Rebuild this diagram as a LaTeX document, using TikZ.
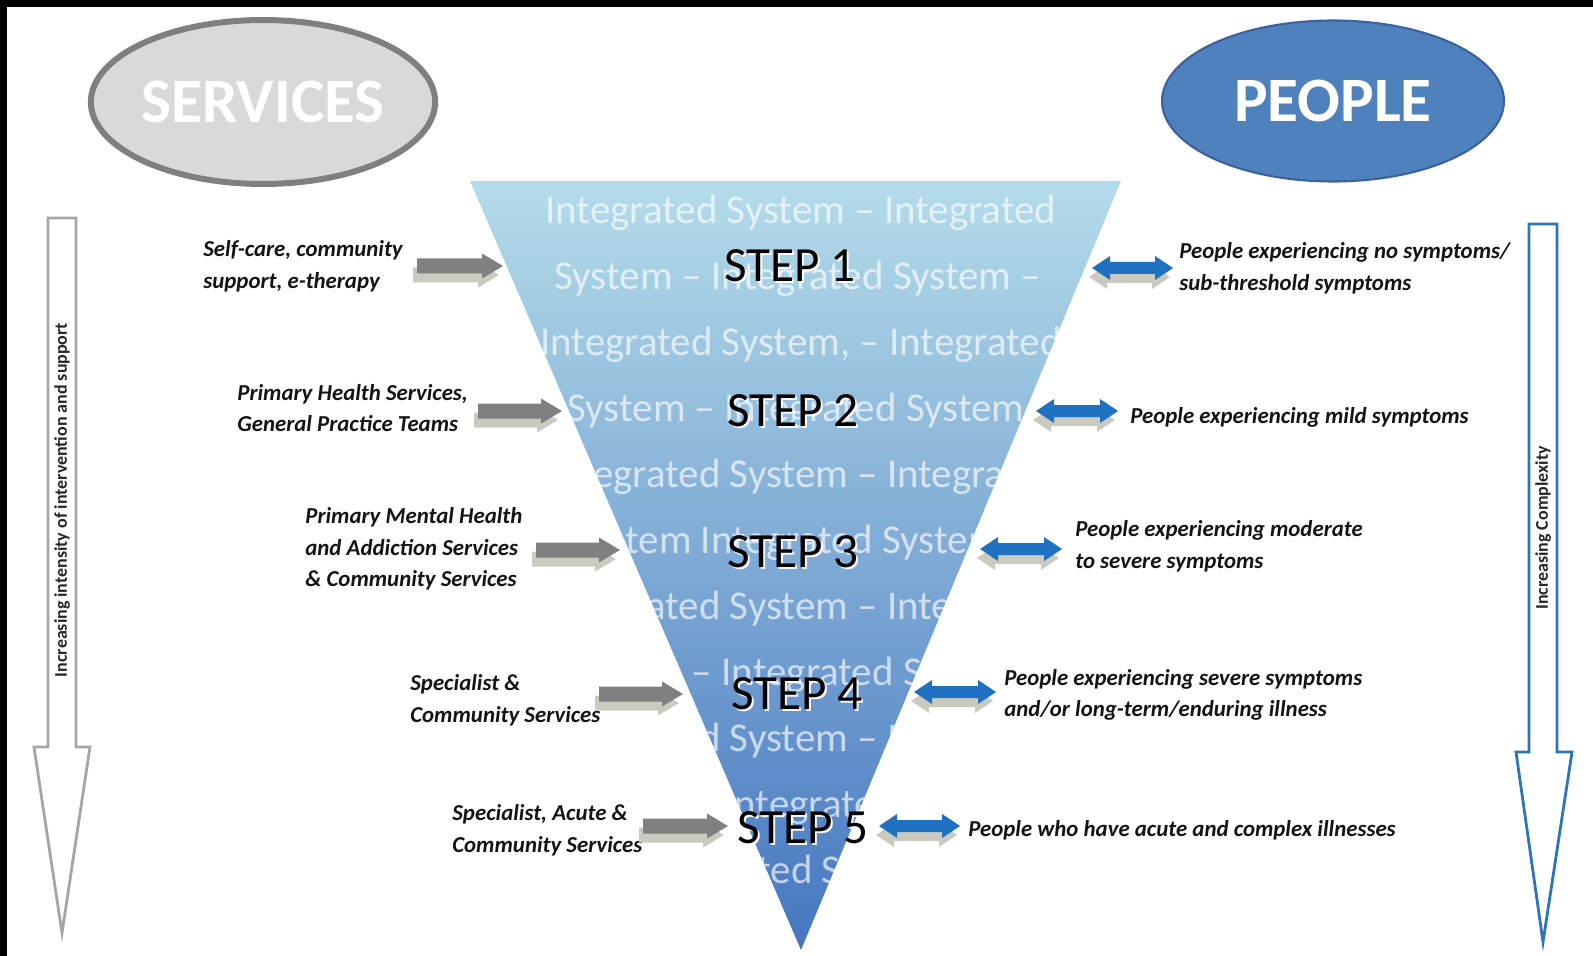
\documentclass[tikz,border=0pt]{standalone}
\usepackage{fontspec}
\setmainfont{Carlito}
\usetikzlibrary{shapes.geometric}
\definecolor{svcfill}{HTML}{D9D9D9}
\definecolor{svcline}{HTML}{7F7F7F}
\definecolor{pplfill}{HTML}{4F81BD}
\definecolor{pplline}{HTML}{3A62A0}
\definecolor{tritop}{HTML}{B5DCE9}
\definecolor{tribot}{HTML}{4576C0}
\definecolor{garr}{HTML}{808080}
\definecolor{gshadow}{HTML}{CBCAC0}
\definecolor{barr}{HTML}{2171C2}
\definecolor{bigblue}{HTML}{2E75B6}
\definecolor{biggray}{HTML}{A6A6A6}
\definecolor{txt}{HTML}{141414}
\newcommand\grayblock[3]{%
  \fill[gshadow] ({#1-4},{#3+9-7.5}) -- ({#2-4-21},{#3+9-7.5}) -- ({#2-4-21},{#3+9-12.5}) -- ({#2-4},{#3+9}) -- ({#2-4-21},{#3+9+12.5}) -- ({#2-4-21},{#3+9+7.5}) -- ({#1-4},{#3+9+7.5}) -- cycle;
  \fill[garr] ({#1},{#3-7.5}) -- ({#2-21},{#3-7.5}) -- ({#2-21},{#3-12.5}) -- ({#2},{#3}) -- ({#2-21},{#3+12.5}) -- ({#2-21},{#3+7.5}) -- ({#1},{#3+7.5}) -- cycle;}
\newcommand\blueblock[3]{%
  \fill[gshadow] ({#1-3},{#3+9}) -- ({#1-3+18},{#3+9-12}) -- ({#1-3+18},{#3+9-6}) -- ({#2-3-18},{#3+9-6}) -- ({#2-3-18},{#3+9-12}) -- ({#2-3},{#3+9}) -- ({#2-3-18},{#3+9+12}) -- ({#2-3-18},{#3+9+6}) -- ({#1-3+18},{#3+9+6}) -- ({#1-3+18},{#3+9+12}) -- cycle;
  \fill[barr] ({#1},{#3}) -- ({#1+18},{#3-12}) -- ({#1+18},{#3-6}) -- ({#2-18},{#3-6}) -- ({#2-18},{#3-12}) -- ({#2},{#3}) -- ({#2-18},{#3+12}) -- ({#2-18},{#3+6}) -- ({#1+18},{#3+6}) -- ({#1+18},{#3+12}) -- cycle;}
\newcommand\steplabel[4]{%
  \node[stepglow] (#1a) at ({#2+2},{#3+2}) {#4};
  \node[steptext] (#1) at (#2,#3) {#4};}
\begin{document}
\begin{tikzpicture}[x=0.02cm,y=-0.02cm,
  wm/.style={anchor=west, inner sep=0pt, text=white, text opacity=0.66, font=\fontsize{23.3}{26}\selectfont},
  steptext/.style={inner sep=0pt, text=black, font=\fontsize{28}{32}\selectfont},
  stepglow/.style={inner sep=0pt, text=white, text opacity=0.9, font=\fontsize{28}{32}\selectfont},
  lbl/.style={anchor=west, inner sep=0pt, align=left, text=txt, font=\bfseries\itshape\fontsize{13}{18}\selectfont},
  sidetxt/.style={rotate=90, inner sep=0pt, text=black!85, font=\bfseries\fontsize{10.2}{12}\selectfont}]
\useasboundingbox (0,0) rectangle (1593,956);
\fill[white] (0,0) rectangle (1593,956);
\fill[black] (0,0) rectangle (1593,7);
\fill[black] (0,0) rectangle (7,956);

% ellipses
\node[ellipse, fill=svcfill, draw=svcline, line width=3.4pt, minimum width=6.88cm, minimum height=3.28cm, inner sep=0pt, text=white, font=\bfseries\fontsize{36}{40}\selectfont] (services) at (263,102) {SERVICES};
\node[ellipse, fill=pplfill, draw=pplline, line width=1.2pt, minimum width=6.84cm, minimum height=3.22cm, inner sep=0pt, text=white, font=\bfseries\fontsize{36}{40}\selectfont] (people) at (1333,101) {PEOPLE};

% triangle
\shade[top color=tritop, bottom color=tribot] (470,181) -- (1121,181) -- (801,950) -- cycle;
\begin{scope}
\clip (470,181) -- (1121,181) -- (801,950) -- cycle;
\node[wm] (wm1) at (545,213) {Integrated System – Integrated};
\node[wm] (wm2) at (554,279) {System – Integrated System –};
\node[wm] (wm3) at (540,345) {Integrated System, – Integrated};
\node[wm] (wm4) at (567,411) {System – Integrated System};
\node[wm] (wm5) at (548,477) {Integrated System – Integrated};
\node[wm] (wm6) at (573,543) {System Integrated System};
\node[wm] (wm7) at (548,609) {Integrated System – Integrated};
\node[wm] (wm8) at (564,675) {System – Integrated System};
\node[wm] (wm9) at (548,741) {Integrated System – Integrated};
\node[wm] (wm10) at (724,807) {Integrated System};
\node[wm] (wm11) at (640,873) {Integrated System};
\end{scope}

% step labels
\steplabel{step1}{790}{266}{STEP 1}
\steplabel{step2}{793}{411}{STEP 2}
\steplabel{step3}{793}{552}{STEP 3}
\steplabel{step4}{797}{694}{STEP 4}
\steplabel{step5}{803}{828}{STEP 5}

% service labels
\node[lbl] (s1) at (203,266) {Self-care, community\\support, e-therapy};
\node[lbl] (s2) at (237,408) {Primary Health Services,\\General Practice Teams};
\node[lbl] (s3) at (305,549) {Primary Mental Health\\and Addiction Services\\\& Community Services};
\node[lbl] (s4) at (410,700) {Specialist \&\\Community Services};
\node[lbl] (s5) at (452,830) {Specialist, Acute \&\\Community Services};

% people labels
\node[lbl] (p1) at (1179,268) {People experiencing no symptoms/\\sub-threshold symptoms};
\node[lbl] (p2) at (1130,417) {People experiencing mild symptoms};
\node[lbl] (p3) at (1075,546) {People experiencing moderate\\to severe symptoms};
\node[lbl] (p4) at (1004,695) {People experiencing severe symptoms\\and/or long-term/enduring illness};
\node[lbl] (p5) at (968,830) {People who have acute and complex illnesses};

% gray block arrows
\grayblock{417}{503}{266}
\grayblock{478}{562}{411}
\grayblock{536}{620}{550}
\grayblock{599}{683}{694}
\grayblock{643}{728}{826}

% blue double arrows
\blueblock{1092}{1173}{268}
\blueblock{1036}{1118}{411}
\blueblock{980}{1062}{549}
\blueblock{914}{996}{692}
\blueblock{879}{960}{826}

% big side arrows
\draw[biggray, line width=1.6pt, fill=white] (48,218) -- (76,218) -- (76,747) -- (90,747) -- (62,933) -- (34,747) -- (48,747) -- cycle;
\draw[bigblue, line width=1.6pt, fill=white] (1529,224) -- (1557,224) -- (1557,752) -- (1572,752) -- (1543,942) -- (1516,752) -- (1529,752) -- cycle;
\node[sidetxt] (lefttxt) at (62,500) {Increasing intensity of intervention and support};
\node[sidetxt] (righttxt) at (1543,528) {Increasing Complexity};
\end{tikzpicture}
\end{document}
